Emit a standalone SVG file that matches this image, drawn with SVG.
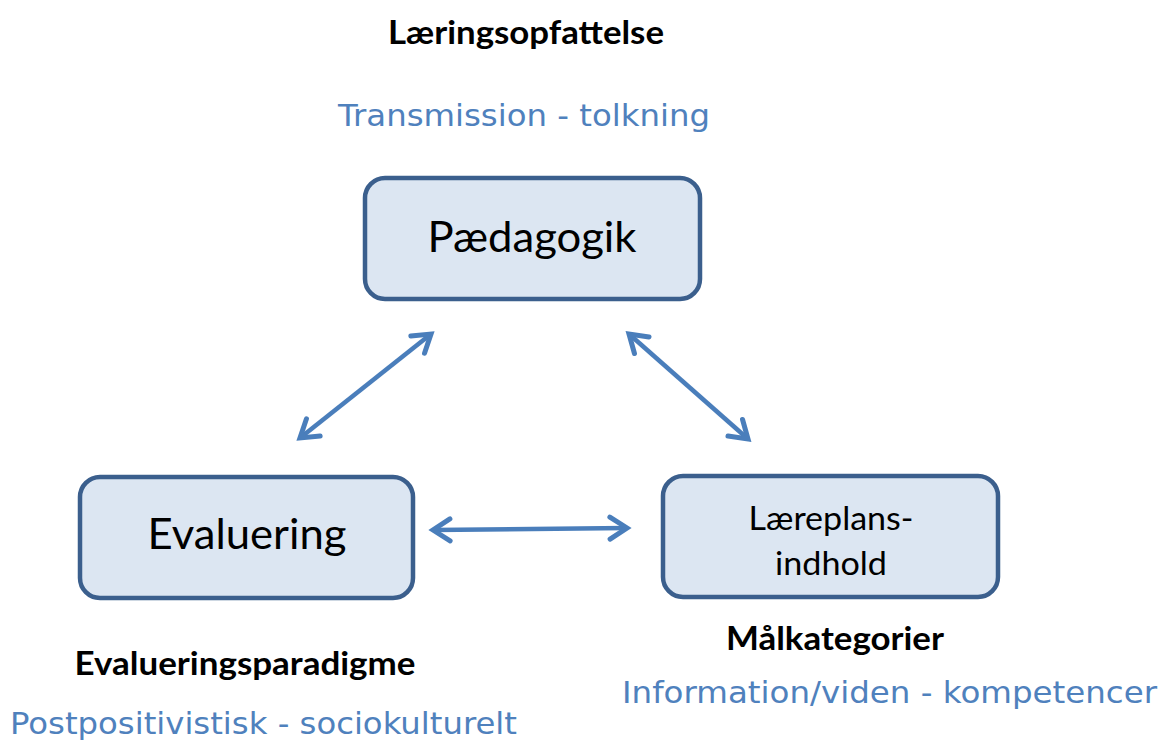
<svg xmlns="http://www.w3.org/2000/svg" width="1162" height="740" viewBox="0 0 1162 740">
<style>
  .box { fill: #dce6f2; stroke: #3b5f8d; stroke-width: 4.5; }
  .lbl { font-family: Lato, "Open Sans", "Liberation Sans", sans-serif; fill: #000; text-anchor: middle; }
  .hdr { font-family: Lato, "Open Sans", "Liberation Sans", sans-serif; font-weight: bold; fill: #000; text-anchor: middle; font-size: 33px; }
  .sub { font-family: "DejaVu Sans", Verdana, sans-serif; fill: #4f81bd; font-size: 30px; }
  .conn { stroke: #4a7ebb; stroke-width: 4.5; fill: none; marker-start: url(#ah); marker-end: url(#ah); }
</style>
<defs>
  <marker id="ah" markerUnits="userSpaceOnUse" markerWidth="40" markerHeight="40" refX="0" refY="0" viewBox="-22 -20 26 40" orient="auto-start-reverse" overflow="visible">
    <path d="M -17,-11 L 0,0 L -17,11" fill="none" stroke="#4a7ebb" stroke-width="5" stroke-linecap="round" stroke-linejoin="miter"/>
  </marker>
</defs>
<rect width="1162" height="740" fill="#ffffff"/>

<g id="header-top">
  <text class="hdr" x="526" y="44" textLength="276" lengthAdjust="spacingAndGlyphs">Læringsopfattelse</text>
  <text class="sub" x="338" y="126" textLength="372" lengthAdjust="spacingAndGlyphs">Transmission - tolkning</text>
</g>

<g id="node-paedagogik">
  <rect class="box" x="365" y="178" width="335" height="121" rx="20"/>
  <text class="lbl" x="532" y="252" font-size="42" textLength="209" lengthAdjust="spacingAndGlyphs">Pædagogik</text>
</g>

<g id="node-evaluering">
  <rect class="box" x="80" y="477" width="333" height="121" rx="20"/>
  <text class="lbl" x="247" y="549" font-size="42" textLength="199" lengthAdjust="spacingAndGlyphs">Evaluering</text>
</g>

<g id="node-laereplan">
  <rect class="box" x="663" y="476" width="335" height="121" rx="20"/>
  <text class="lbl" x="831" y="530" font-size="33" textLength="165" lengthAdjust="spacingAndGlyphs">Læreplans-</text>
  <text class="lbl" x="831" y="575" font-size="33" textLength="112" lengthAdjust="spacingAndGlyphs">indhold</text>
</g>

<g id="header-left">
  <text class="hdr" x="245" y="675" textLength="341" lengthAdjust="spacingAndGlyphs">Evalueringsparadigme</text>
  <text class="sub" x="10" y="734" textLength="507" lengthAdjust="spacingAndGlyphs">Postpositivistisk - sociokulturelt</text>
</g>

<g id="header-right">
  <text class="hdr" x="835" y="650" textLength="218" lengthAdjust="spacingAndGlyphs">Målkategorier</text>
  <text class="sub" x="622" y="703" textLength="535" lengthAdjust="spacingAndGlyphs">Information/viden - kompetencer</text>
</g>

<g id="connectors">
  <line class="conn" x1="300" y1="438" x2="431" y2="334"/>
  <line class="conn" x1="629" y1="334" x2="748" y2="439"/>
  <line class="conn" x1="433" y1="530" x2="627" y2="528"/>
</g>
</svg>
